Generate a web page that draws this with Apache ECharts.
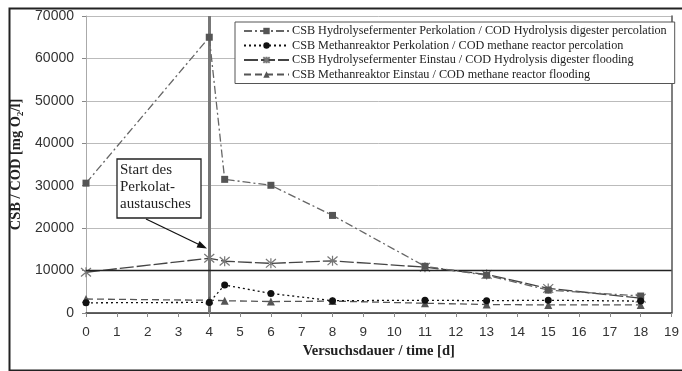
<!DOCTYPE html>
<html><head><meta charset="utf-8">
<script src="https://cdn.jsdelivr.net/npm/echarts@6/dist/echarts.min.js"></script>
<style>html,body{margin:0;padding:0;background:#fff}#c{width:682px;height:371px}</style>
</head><body><div id="c"></div>
<script>
const days = [0, 4, 4.5, 6, 8, 11, 13, 15, 18];
const hydroPerk = [30600, 65000, 31500, 30100, 23000, 11000, 8900, 5400, 4000];
const methanPerk = [2400, 2500, 6600, 4600, 2900, 3000, 2900, 3000, 2800];
const hydroEinstau = [9600, 12900, 12200, 11700, 12300, 10800, 9100, 5800, 3500];
const methanEinstau = [3300, 3000, 2900, 2700, 2800, 2300, 2000, 1900, 1900];
const seriesNames = [
  'CSB Hydrolysefermenter Perkolation / COD Hydrolysis digester percolation',
  'CSB Methanreaktor Perkolation / COD methane reactor percolation',
  'CSB Hydrolysefermenter Einstau / COD Hydrolysis digester flooding',
  'CSB Methanreaktor Einstau / COD methane reactor flooding'
];
const xTicks = {min: 0, max: 19, interval: 1};
const yTicks = {min: 0, max: 70000, interval: 10000};

const pair = (xs, ys) => xs.map((x, i) => [x, ys[i]]);
const starPath = 'path://M0,-5L0,5M-4.3,-4.3L4.3,4.3M-4.3,4.3L4.3,-4.3';
const serif = '"Liberation Serif", "DejaVu Serif", serif';
const sans = '"Liberation Sans", Arial, sans-serif';

const chart = echarts.init(document.getElementById('c'), null, {renderer: 'canvas'});
chart.setOption({
  animation: false,
  backgroundColor: '#fff',
  grid: {left: 86, right: 4, top: 16, bottom: 58, containLabel: false},
  legend: {
    orient: 'vertical', left: 235, top: 22,
    padding: [3, 8, 3, 8],
    backgroundColor: '#fff',
    borderColor: '#555', borderWidth: 1,
    itemWidth: 45, itemHeight: 8, itemGap: 2.5,
    textStyle: {fontFamily: serif, fontSize: 12.2, color: '#222', lineHeight: 11, padding: [0,0,0,-2]},
    data: seriesNames
  },
  xAxis: {
    type: 'value', min: xTicks.min, max: xTicks.max, interval: xTicks.interval,
    name: 'Versuchsdauer / time [d]', nameLocation: 'middle', nameGap: 30,
    nameTextStyle: {fontFamily: serif, fontWeight: 'bold', fontSize: 14.5, color: '#222'},
    axisLine: {show: true, onZero: false, lineStyle: {color: '#333', width: 1.5}},
    axisTick: {show: true, length: 4, lineStyle: {color: '#888'}},
    axisLabel: {fontFamily: sans, fontSize: 13.5, color: '#333', margin: 12},
    splitLine: {show: false}
  },
  yAxis: [{
    type: 'value', min: yTicks.min, max: yTicks.max, interval: yTicks.interval,
    name: 'CSB / COD [mg O\u2082/l]', nameLocation: 'middle', nameGap: 45,
    nameTextStyle: {fontFamily: serif, fontWeight: 'bold', fontSize: 14.5, color: '#222'},
    axisLine: {show: true, lineStyle: {color: '#aaa', width: 1}},
    axisTick: {show: true, length: 4, lineStyle: {color: '#888'}},
    axisLabel: {fontFamily: sans, fontSize: 14, color: '#333', margin: 12, formatter: v => String(v)},
    splitLine: {show: true, lineStyle: {color: '#bbb', width: 1}}
  }, {
    type: 'value', min: yTicks.min, max: yTicks.max, position: 'right',
    axisLine: {show: true, lineStyle: {color: '#555', width: 1.5}},
    axisTick: {show: false}, axisLabel: {show: false}, splitLine: {show: false}
  }],
  series: [
    {
      name: seriesNames[0], type: 'line', data: pair(days, hydroPerk),
      symbol: 'rect', symbolSize: 7, z: 5,
      lineStyle: {color: '#666', width: 1.3, type: [8, 3, 2, 3]},
      itemStyle: {color: '#555'},
      markLine: {
        silent: true, symbol: ['none', 'none'], label: {show: false},
        data: [
          {xAxis: 4, lineStyle: {color: '#777', width: 3, type: 'solid'}},
          {yAxis: 10000, lineStyle: {color: '#222', width: 1.3, type: 'solid'}}
        ]
      }
    },
    {
      name: seriesNames[1], type: 'line', data: pair(days, methanPerk),
      symbol: 'circle', symbolSize: 7, z: 6,
      lineStyle: {color: '#111', width: 1.3, type: [2, 3]},
      itemStyle: {color: '#111'}
    },
    {
      name: seriesNames[2], type: 'line', data: pair(days, hydroEinstau),
      symbol: starPath, symbolSize: 10, z: 4,
      lineStyle: {color: '#444', width: 1.3, type: [14, 3]},
      itemStyle: {color: '#777', borderColor: '#777', borderWidth: 1.2}
    },
    {
      name: seriesNames[3], type: 'line', data: pair(days, methanEinstau),
      symbol: 'triangle', symbolSize: 8, z: 5,
      lineStyle: {color: '#555', width: 1.3, type: [7, 4]},
      itemStyle: {color: '#555'}
    }
  ],
  graphic: [
    {type: 'rect', left: 7, top: 6, shape: {width: 680, height: 362}, silent: true,
     style: {fill: 'none', stroke: '#222', lineWidth: 2}, z: 100},
    {type: 'rect', shape: {x: 117, y: 159, width: 84, height: 59}, z: 50,
     style: {fill: '#fff', stroke: '#222', lineWidth: 1.3}},
    {type: 'text', x: 120, y: 162, z: 51,
     style: {text: 'Start des\nPerkolat-\naustausches', font: '15px ' + serif, fill: '#222', lineHeight: 17}},
    {type: 'line', shape: {x1: 146, y1: 219, x2: 200, y2: 245}, z: 51,
     style: {stroke: '#111', lineWidth: 1.3}},
    {type: 'polygon', shape: {points: [[207, 248.5], [196.5, 247.5], [199.5, 241]]}, z: 51,
     style: {fill: '#111'}}
  ]
});
</script></body></html>
